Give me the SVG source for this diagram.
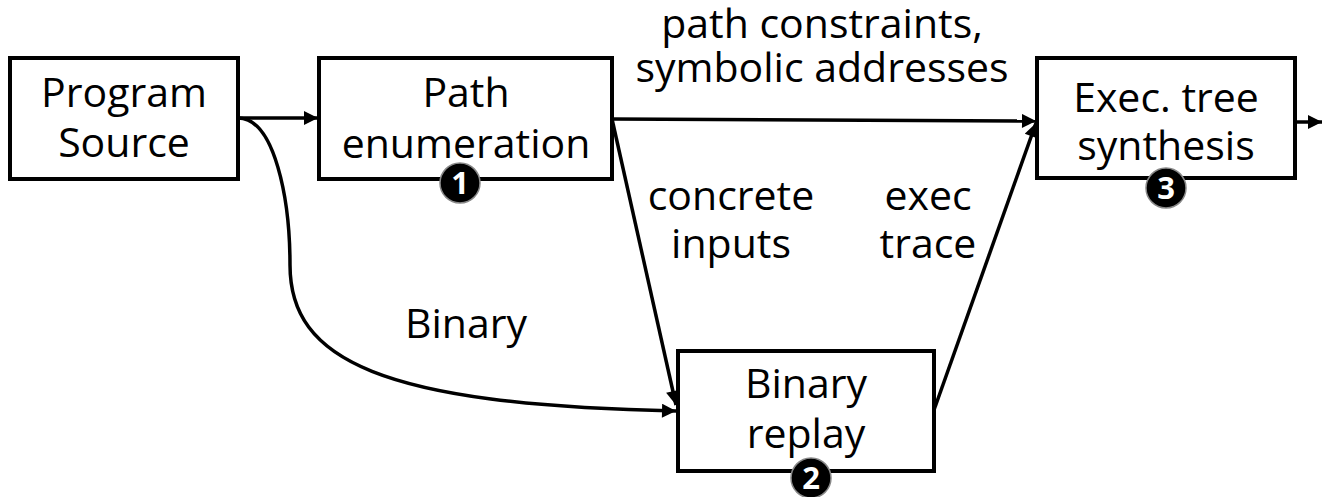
<svg xmlns="http://www.w3.org/2000/svg" width="1322" height="497" viewBox="0 0 1322 497">
  <style>
    .box { fill: #fff; stroke: #000; stroke-width: 4; }
    .lbl { font-family: "Open Sans", "Liberation Sans", sans-serif; font-size: 41px; fill: #000; text-anchor: middle; }
    .edge { fill: none; stroke: #000; stroke-width: 3.5; }
    .badge { fill: #000; stroke: #888; stroke-width: 1.5; }
    .num { font-family: "Open Sans", "Liberation Sans", sans-serif; font-weight: bold; font-size: 31px; fill: #fff; text-anchor: middle; }
  </style>
  <defs>
    <marker id="arrow" viewBox="0 0 10 10" refX="10" refY="5" markerWidth="4.4" markerHeight="4" orient="auto" markerUnits="strokeWidth">
      <path d="M0,0 L10,5 L0,10 z" fill="#000"/>
    </marker>
  </defs>

  <g id="connectors">
    <path class="edge" d="M238,118 L318,118" marker-end="url(#arrow)"/>
    <path class="edge" d="M238,118 C275,118 290,200 290,265 C290,360 380,405 676,411" marker-end="url(#arrow)"/>
    <path class="edge" d="M612,119 L1036,121" marker-end="url(#arrow)"/>
    <path class="edge" d="M612,119 L676,405" marker-end="url(#arrow)"/>
    <path class="edge" d="M934,410 L1036,123" marker-end="url(#arrow)"/>
    <path class="edge" d="M1295,122 L1322,122" marker-end="url(#arrow)"/>
    <text class="lbl" x="822" y="38">path constraints,</text>
    <text class="lbl" x="822" y="82">symbolic addresses</text>
    <text class="lbl" x="731" y="210">concrete</text>
    <text class="lbl" x="731" y="258">inputs</text>
    <text class="lbl" x="928" y="210">exec</text>
    <text class="lbl" x="928" y="258">trace</text>
    <text class="lbl" x="466" y="338">Binary</text>
  </g>

  <g id="program-source">
    <rect class="box" x="10" y="58" width="228" height="121"/>
    <text class="lbl" x="124" y="107">Program</text>
    <text class="lbl" x="124" y="157">Source</text>
  </g>

  <g id="path-enumeration">
    <rect class="box" x="319" y="58" width="293" height="121"/>
    <text class="lbl" x="466" y="107">Path</text>
    <text class="lbl" x="466" y="158">enumeration</text>
    <circle class="badge" cx="460" cy="183" r="20"/>
    <text class="num" x="460" y="194">1</text>
  </g>

  <g id="exec-tree-synthesis">
    <rect class="box" x="1037" y="58" width="258" height="120"/>
    <text class="lbl" x="1166" y="112">Exec. tree</text>
    <text class="lbl" x="1166" y="160">synthesis</text>
    <circle class="badge" cx="1166" cy="188" r="20"/>
    <text class="num" x="1166" y="199">3</text>
  </g>

  <g id="binary-replay">
    <rect class="box" x="678" y="351" width="256" height="120"/>
    <text class="lbl" x="806" y="398">Binary</text>
    <text class="lbl" x="806" y="448">replay</text>
    <circle class="badge" cx="811" cy="478" r="20"/>
    <text class="num" x="811" y="489">2</text>
  </g>
</svg>
